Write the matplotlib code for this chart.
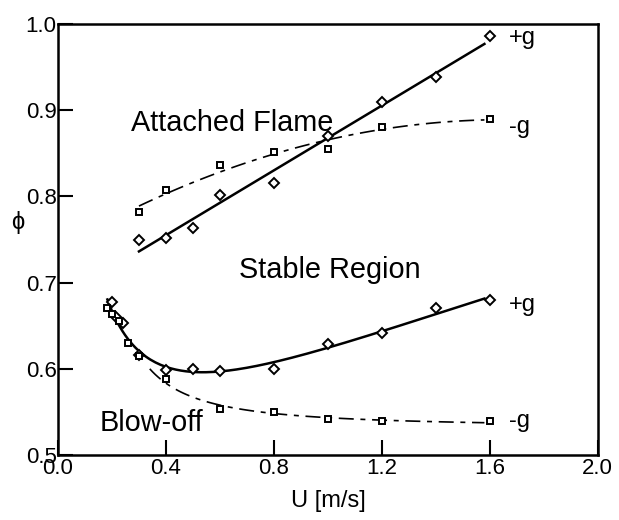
import numpy as np
import matplotlib
matplotlib.use("Agg")
import matplotlib.pyplot as plt

plt.rcParams['font.family'] = ['Liberation Sans', 'DejaVu Sans']

# attached flame limit, +g (diamonds) and -g (squares)
att_pg_u = [0.30, 0.40, 0.50, 0.60, 0.80, 1.00, 1.20, 1.40, 1.60]
att_pg_phi = [0.749, 0.752, 0.763, 0.801, 0.815, 0.870, 0.910, 0.938, 0.986]
att_mg_u = [0.30, 0.40, 0.60, 0.80, 1.00, 1.20, 1.60]
att_mg_phi = [0.782, 0.807, 0.836, 0.851, 0.855, 0.880, 0.890]

# blow-off limit, +g (diamonds) and -g (squares)
blow_pg_u = [0.20, 0.215, 0.24, 0.30, 0.40, 0.50, 0.60, 0.80, 1.00, 1.20, 1.40, 1.60]
blow_pg_phi = [0.677, 0.660, 0.653, 0.616, 0.599, 0.600, 0.597, 0.600, 0.629, 0.641, 0.670, 0.680]
blow_mg_u = [0.18, 0.20, 0.225, 0.26, 0.30, 0.40, 0.60, 0.80, 1.00, 1.20, 1.60]
blow_mg_phi = [0.670, 0.664, 0.655, 0.630, 0.615, 0.588, 0.553, 0.550, 0.542, 0.540, 0.539]

fig = plt.figure(figsize=(6.19, 5.2), dpi=100)
ax = fig.add_axes([0.0937, 0.125, 0.872, 0.829])

dash = (0, (9, 4, 3, 4))

# fitted curves
u = np.linspace(0.30, 1.58, 100)
c = np.polyfit(att_pg_u, att_pg_phi, 1)
ax.plot(u, np.polyval(c, u), 'k-', lw=1.8)
c = np.polyfit(att_mg_u, att_mg_phi, 2)
ax.plot(u, np.polyval(c, u), 'k', ls=dash, lw=1.2)

# blow-off +g: quadratic in ln(U); at low U both series share the same limit
low = [i for i, v in enumerate(blow_mg_u) if v < 0.3]
fit_u = list(blow_pg_u) + [blow_mg_u[i] for i in low]
fit_phi = list(blow_pg_phi) + [blow_mg_phi[i] for i in low]
u = np.linspace(0.183, 1.58, 150)
c = np.polyfit(np.log(fit_u), fit_phi, 2)
ax.plot(u, np.polyval(c, np.log(u)), 'k-', lw=1.8)

sel = [i for i, v in enumerate(blow_mg_u) if v >= 0.3]
uu = np.array(blow_mg_u)[sel]
pp = np.array(blow_mg_phi)[sel]
c = np.polyfit(1 / uu, pp, 2)
u = np.linspace(0.34, 1.58, 120)
ax.plot(u, np.polyval(c, 1 / u), 'k', ls=dash, lw=1.2)

# markers
ax.plot(att_pg_u, att_pg_phi, 'D', ms=5, mfc='white', mec='k', mew=1.4, ls='none')
ax.plot(att_mg_u, att_mg_phi, 's', ms=4.5, mfc='white', mec='k', mew=1.4, ls='none')
ax.plot(blow_pg_u, blow_pg_phi, 'D', ms=5, mfc='white', mec='k', mew=1.4, ls='none')
ax.plot(blow_mg_u, blow_mg_phi, 's', ms=4.5, mfc='white', mec='k', mew=1.4, ls='none')

# region labels
ax.text(0.645, 0.885, 'Attached Flame', fontsize=20.8, ha='center', va='center')
ax.text(1.007, 0.714, 'Stable Region', fontsize=20.8, ha='center', va='center')
ax.text(0.155, 0.537, 'Blow-off', fontsize=20.8, ha='left', va='center')
for yy, s in [(0.984, '+g'), (0.880, '-g'), (0.674, '+g'), (0.540, '-g')]:
    ax.text(1.67, yy, s, fontsize=17, ha='left', va='center')

ax.set_xlim(0.0, 2.0)
ax.set_ylim(0.5, 1.0)
ax.set_xticks([0.0, 0.4, 0.8, 1.2, 1.6, 2.0])
ax.set_yticks([0.5, 0.6, 0.7, 0.8, 0.9, 1.0])
ax.set_xticklabels(['0.0', '0.4', '0.8', '1.2', '1.6', '2.0'])
ax.set_yticklabels(['0.5', '0.6', '0.7', '0.8', '0.9', '1.0'])
ax.tick_params(direction='in', length=11, width=1.5, labelsize=16, pad=2)
ax.tick_params(axis='y', pad=1)
for sp in ax.spines.values():
    sp.set_linewidth(1.8)

ax.set_xlabel('U [m/s]', fontsize=17, labelpad=8)
ax.set_ylabel('ϕ', fontsize=17, rotation=0, va='center')
ax.yaxis.set_label_coords(-0.075, 0.54)

fig.savefig('out.png', dpi=100)
